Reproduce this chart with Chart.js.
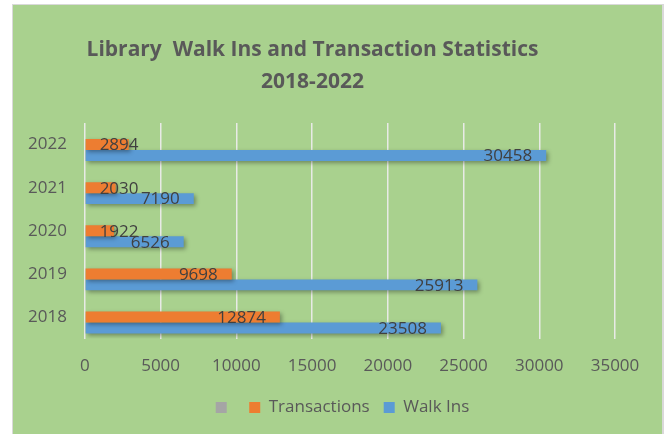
<!DOCTYPE html>
<html>
<head>
<meta charset="utf-8">
<script src="https://cdn.jsdelivr.net/npm/chart.js@4.4.1/dist/chart.umd.min.js"></script>
<style>
    html, body { margin: 0; padding: 0; background: #ffffff; }
    #wrap { position: relative; width: 664px; height: 434px; }
</style>
</head>
<body>
<div id="wrap"><canvas id="libChart" width="664" height="434"></canvas></div>
<script>
// chart data (top to bottom as in the picture)
const years = ['2022', '2021', '2020', '2019', '2018'];
const blankSeries = [null, null, null, null, null]; // empty third series, grey in the legend
const transactions = [2894, 2030, 1922, 9698, 12874];
const walkIns = [30458, 7190, 6526, 25913, 23508];
const xTicks = [0, 5000, 10000, 15000, 20000, 25000, 30000, 35000];

const FONT = '"Open Sans", "DejaVu Sans", sans-serif';

// green panel behind everything
const panelPlugin = {
    id: 'panel',
    beforeDraw(chart) {
        const ctx = chart.ctx;
        ctx.save();
        ctx.fillStyle = '#d9d9d9';
        ctx.fillRect(12, 4, 652, 430);
        ctx.fillStyle = '#a9d18e';
        ctx.fillRect(13, 5, 649, 429);
        ctx.restore();
    },
    // legend sits a bit right of the plot centre in the original
    afterLayout(chart) {
        if (chart.legend) {
            chart.legend.left += 30;
            chart.legend.right += 30;
        }
    }
};

// soft shadow under the bars, like the Excel effect
const shadowPlugin = {
    id: 'barShadow',
    beforeDatasetsDraw(chart) {
        const ctx = chart.ctx;
        ctx.save();
        ctx.shadowColor = 'rgba(0, 0, 0, 0.35)';
        ctx.shadowBlur = 4;
        ctx.shadowOffsetX = 2;
        ctx.shadowOffsetY = 2;
    },
    afterDatasetsDraw(chart) {
        chart.ctx.restore();
    }
};

// value labels at the inside end of each bar
const valueLabels = {
    id: 'valueLabels',
    afterDraw(chart) {
        const ctx = chart.ctx;
        ctx.save();
        ctx.font = '17px ' + FONT;
        ctx.fillStyle = '#404040';
        ctx.textAlign = 'right';
        ctx.textBaseline = 'middle';
        chart.data.datasets.forEach((ds, i) => {
            const meta = chart.getDatasetMeta(i);
            meta.data.forEach((bar, j) => {
                if (ds.data[j] == null) return;
                const txt = String(ds.data[j]);
                const w = ctx.measureText(txt).width;
                const right = Math.max(bar.x - 14, bar.base + 14 + w);
                ctx.fillText(txt, right, bar.y + 1);
            });
        });
        ctx.restore();
    }
};

new Chart(document.getElementById('libChart'), {
    type: 'bar',
    data: {
        labels: years,
        datasets: [
            {
                label: '',
                data: blankSeries,
                backgroundColor: '#a5a5a5',
                borderWidth: 0
            },
            {
                label: 'Transactions',
                data: transactions,
                backgroundColor: '#ed7d31',
                borderWidth: 0
            },
            {
                label: 'Walk Ins',
                data: walkIns,
                backgroundColor: '#5b9bd5',
                borderWidth: 0
            }
        ]
    },
    options: {
        indexAxis: 'y',
        responsive: false,
        animation: false,
        layout: {
            padding: { left: 10, right: 49, top: 0, bottom: 8 }
        },
        datasets: {
            bar: { categoryPercentage: 0.76, barPercentage: 1.0 }
        },
        plugins: {
            title: {
                display: true,
                text: ['Library  Walk Ins and Transaction Statistics', '2018-2022'],
                color: '#595959',
                font: { family: FONT, size: 21, weight: 'bold', lineHeight: '32px' },
                padding: { top: 34, bottom: 25 }
            },
            legend: {
                position: 'bottom',
                labels: {
                    color: '#595959',
                    font: { family: FONT, size: 17 },
                    boxWidth: 11,
                    boxHeight: 11,
                    padding: 14
                },
                onClick: null
            },
            tooltip: { enabled: false }
        },
        scales: {
            x: {
                min: 0,
                max: 35000,
                afterBuildTicks(axis) {
                    axis.ticks = xTicks.map(v => ({ value: v }));
                },
                afterFit(axis) {
                    axis.height -= 8;
                },
                grid: {
                    color: 'rgba(235, 235, 235, 0.95)',
                    lineWidth: 1.5,
                    drawTicks: false
                },
                border: { display: false },
                ticks: {
                    color: '#595959',
                    font: { family: FONT, size: 17 },
                    padding: 17,
                    callback: v => String(v)
                }
            },
            y: {
                grid: { display: false, drawTicks: false },
                border: { display: false },
                ticks: {
                    color: '#595959',
                    font: { family: FONT, size: 17 },
                    padding: 18
                }
            }
        }
    },
    plugins: [panelPlugin, shadowPlugin, valueLabels]
});
</script>
</body>
</html>
